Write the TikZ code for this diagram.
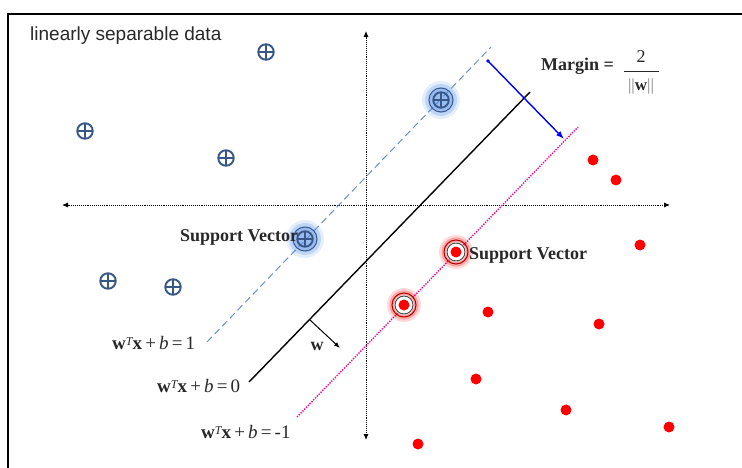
\documentclass[tikz,border=0pt]{standalone}
\usepackage{fontspec}
\setmainfont{Liberation Serif}
\newfontfamily\arialf{Liberation Sans}
\usetikzlibrary{arrows.meta}
\definecolor{plusblue}{RGB}{55,88,135}
\definecolor{dashblue}{RGB}{105,145,205}
\definecolor{glowblue}{RGB}{80,140,230}
\definecolor{txtgray}{RGB}{40,40,40}
\newcommand{\eqlab}[1]{{\bfseries w}\raisebox{0.45ex}{\fontsize{12}{12}\selectfont\itshape T}{\bfseries x}\,+\,\textit{b}\,=\,#1}
\begin{document}
\begin{tikzpicture}[x=1pt,y=-1pt,
 plusdot/.style={circle,draw=plusblue,line width=1.9pt,minimum size=15.5pt,inner sep=0pt,
   path picture={\draw[plusblue,line width=1.8pt]
     (path picture bounding box.north) -- (path picture bounding box.south)
     (path picture bounding box.west) -- (path picture bounding box.east);}},
 reddot/.style={circle,fill=red,minimum size=11pt,inner sep=0pt},
 lbl/.style={font=\bfseries\fontsize{18}{20}\selectfont,text=txtgray,inner sep=0pt},
 eqstyle/.style={font=\fontsize{19}{21}\selectfont,text=txtgray,inner sep=0pt},
 axisline/.style={densely dotted,line width=0.9pt,{Latex[length=6pt,width=5pt]}-{Latex[length=6pt,width=5pt]}}
]
\useasboundingbox (0,0) rectangle (742,468);
% frame
\draw[line width=2pt] (8,480) -- (8,14) -- (760,14);

% axes
\coordinate (xl) at (62,205);
\coordinate (xr) at (670,205);
\coordinate (yt) at (366,31);
\coordinate (yb) at (366,440);
\draw[axisline] (xl) -- (xr);
\draw[axisline] (yt) -- (yb);

% lines
\coordinate (p1a) at (207,342);
\coordinate (p1b) at (491,47);
\coordinate (p0a) at (249,382);
\coordinate (p0b) at (530,92);
\coordinate (pma) at (297,417);
\coordinate (pmb) at (578,127);
\draw[dashblue,dash pattern=on 7pt off 4pt,line width=1pt] (p1a) -- (p1b);
\draw[black,line width=1.4pt] (p0a) -- (p0b);
\draw[magenta,line width=1.4pt,dash pattern=on 1.3pt off 1.3pt] (pma) -- (pmb);

% w arrow
\coordinate (wa) at (310,320);
\coordinate (wb) at (340,348);
\draw[line width=1pt,-{Latex[length=6pt,width=4.5pt]}] (wa) -- (wb);
\node[lbl] (wl) at (317,346) {w};

% margin arrow
\coordinate (ma) at (488,61);
\coordinate (mb) at (564,139);
\fill[blue] (ma) circle (1.8pt);
\draw[blue,line width=1.4pt,-{Latex[length=8pt,width=6pt]}] (ma) -- (mb);
\node[lbl,anchor=west] (mg) at (541,66) {Margin =};
\node[font=\fontsize{18}{20}\selectfont,text=txtgray,inner sep=0pt] (two) at (641,57) {2};
\coordinate (fa) at (624,72);
\coordinate (fb) at (659,72);
\draw[txtgray,line width=1pt] (fa) -- (fb);
\node[font=\fontsize{17}{19}\selectfont,text=gray,inner sep=0pt] (nw) at (641,86) {||\textbf{\color{txtgray}w}||};

% blue points
\foreach \n/\x/\y in {b1/266/52, b2/85/131, b3/226/158, b4/108/281, b5/173/287}
  \node[plusdot] (\n) at (\x,\y) {};

% blue support vectors
\foreach \n/\x/\y in {sv1/441/100, sv2/305/239}{
  \fill[glowblue,opacity=0.15] (\x,\y) circle (19pt);
  \fill[glowblue,opacity=0.25] (\x,\y) circle (16pt);
  \fill[glowblue,opacity=0.35] (\x,\y) circle (13pt);
  \draw[plusblue,line width=0.9pt] (\x,\y) circle (12pt);
  \node[plusdot] (\n) at (\x,\y) {};
}

% red points
\foreach \n/\x/\y in {r1/593/160, r2/616/180, r3/640/245, r4/488/312, r5/599/324, r6/476/379, r7/566/410, r8/669/427, r9/418/444}
  \node[reddot] (\n) at (\x,\y) {};

% red support vectors
\foreach \n/\x/\y in {rs1/456/252, rs2/404/305}{
  \fill[red,opacity=0.15] (\x,\y) circle (17pt);
  \fill[red,opacity=0.25] (\x,\y) circle (14.5pt);
  \draw[red!70!black,line width=1pt] (\x,\y) circle (12pt);
  \fill[white] (\x,\y) circle (10pt);
  \draw[black!70,line width=1pt] (\x,\y) circle (9pt);
  \fill[white] (\x,\y) circle (8pt);
  \node[reddot] (\n) at (\x,\y) {};
}

% labels
\node[anchor=west,text=txtgray,font=\arialf\fontsize{19}{21}\selectfont,inner sep=0pt] (title) at (30,36) {linearly separable data};
\node[lbl,anchor=west] (svl) at (180,237) {Support Vector};
\node[lbl,anchor=west] (svr) at (469,255) {Support Vector};
\node[eqstyle,anchor=west] (e1) at (112,343) {\eqlab{1}};
\node[eqstyle,anchor=west] (e0) at (157,386) {\eqlab{0}};
\node[eqstyle,anchor=west] (em) at (201,432) {\eqlab{-1}};
\end{tikzpicture}
\end{document}
